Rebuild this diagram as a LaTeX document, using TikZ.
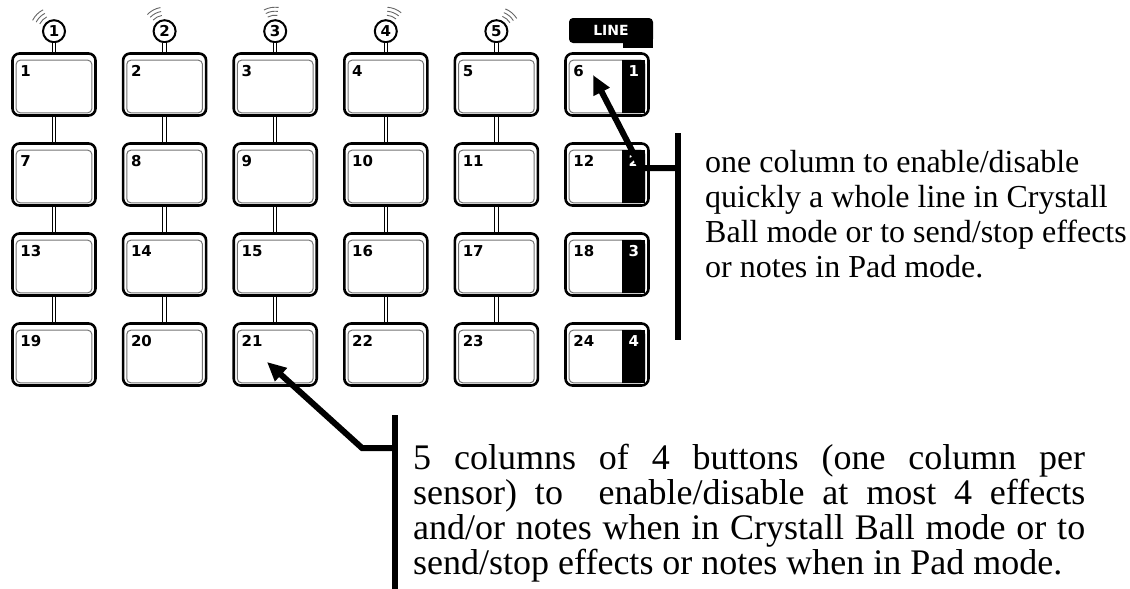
\documentclass[tikz,border=0pt]{standalone}
\usepackage{fontspec}
\setmainfont{Liberation Serif}
\newfontfamily\padfont{DejaVu Sans}
\usetikzlibrary{arrows.meta,calc}

\tikzset{
  pad/.style={draw, line width=2.6pt, rounded corners=7pt, minimum width=83pt,
    minimum height=62pt, inner sep=0pt},
  rim/.style={draw=black!55, line width=1pt, rounded corners=4pt},
  padnum/.style={inner sep=0pt, font=\padfont\bfseries\fontsize{15}{15}\selectfont},
  sensor/.style={draw, circle, line width=2pt, minimum size=22pt, inner sep=0pt,
    font=\padfont\bfseries\fontsize{15}{15}\selectfont},
  stem/.style={double, line width=0.9pt, double distance=2.5pt},
  wave/.style={draw=black!60, line width=0.9pt},
  linetab/.style={fill=black, rounded corners=4pt, minimum width=84pt, minimum height=25pt,
    text=white, font=\padfont\bfseries\fontsize{14}{14}\selectfont},
  pointer/.style={line width=6pt},
}

\begin{document}
\begin{tikzpicture}[x=1pt,y=-1pt]
\useasboundingbox (0,0) rectangle (1130,589);

% pads
\foreach \c/\x in {0/54,1/164.6,2/275.2,3/385.8,4/496.4,5/607} {
  \foreach \r/\y in {0/84.5,1/174.5,2/264.5,3/354.5} {
    \pgfmathtruncatemacro{\n}{6*\r+\c+1}
    \node[pad] (b\n) at (\x,\y) {};
    \draw[rim] ($(b\n.north west)+(5,8)$) rectangle ($(b\n.south east)+(-5,-4)$);
    \node[padnum, anchor=north west] at ($(b\n.north west)+(9,13)$) {\n};
  }
}

% line column
\foreach \r in {1,...,4} {
  \pgfmathtruncatemacro{\n}{6*\r}
  \fill ($(b\n.north east)+(-28,8)$) rectangle ($(b\n.south east)+(-5,-4)$);
  \node[padnum, text=white, anchor=north] at ($(b\n.north east)+(-16,13)$) {\r};
}
\node[linetab] (line) at (611,30.5) {LINE};
\fill (line.south east) ++(0,-4) rectangle ++(-30,9);

% links between rows
\foreach \i in {1,...,5} {
  \foreach \j in {0,1,2} {
    \pgfmathtruncatemacro{\up}{\i+6*\j}
    \pgfmathtruncatemacro{\dn}{\i+6*\j+6}
    \draw[stem] (b\up) -- (b\dn);
  }
}

% sensors
\foreach \i/\a in {1/-135,2/-118,3/-100,4/-68,5/-50} {
  \path (b\i.north) ++(0,-21) node[sensor] (s\i) {\i};
  \draw[stem] (s\i) -- (b\i);
  \foreach \rr in {16,20,24}
    \draw[wave] (s\i.center) ++(\a-18:\rr) arc[start angle=\a-18, end angle=\a+18, radius=\rr];
}

% pointers
\coordinate (tipA) at (593,75);
\coordinate (kneeA) at (641,168);
\coordinate (barAtop) at (678,133);
\coordinate (barAbot) at (678,340);
\draw[pointer] (barAtop) -- (barAbot);
\draw[pointer, -{Triangle[length=19pt,width=17pt]}] (barAtop |- kneeA) -- (kneeA) -- (tipA);

\coordinate (tipB) at (267,362);
\coordinate (kneeB) at (362,448);
\coordinate (barBtop) at (395,415);
\coordinate (barBbot) at (395,589);
\draw[pointer] (barBtop) -- (barBbot);
\draw[pointer, -{Triangle[length=19pt,width=17pt]}] (barBtop |- kneeB) -- (kneeB) -- (tipB);

% notes
\node[anchor=base west, inner sep=0pt] (noteA) at (705,172) {\parbox[t]{480pt}{\raggedright\fontsize{32}{35}\selectfont
  one column to enable/disable\\
  quickly a whole line in Crystall\\
  Ball mode or to send/stop effects\\
  or notes in Pad mode.}};
\node[anchor=base west, inner sep=0pt] (noteB) at (413,469) {\parbox[t]{672pt}{\fontsize{36}{35}\selectfont\tolerance=10000\noindent
  5 columns of 4 buttons (one column per\linebreak
  sensor) to\ \ enable/disable at most 4 effects\linebreak
  and/or notes when in Crystall Ball mode or to\linebreak
  send/stop effects or notes when in Pad mode.}};
\end{tikzpicture}
\end{document}
